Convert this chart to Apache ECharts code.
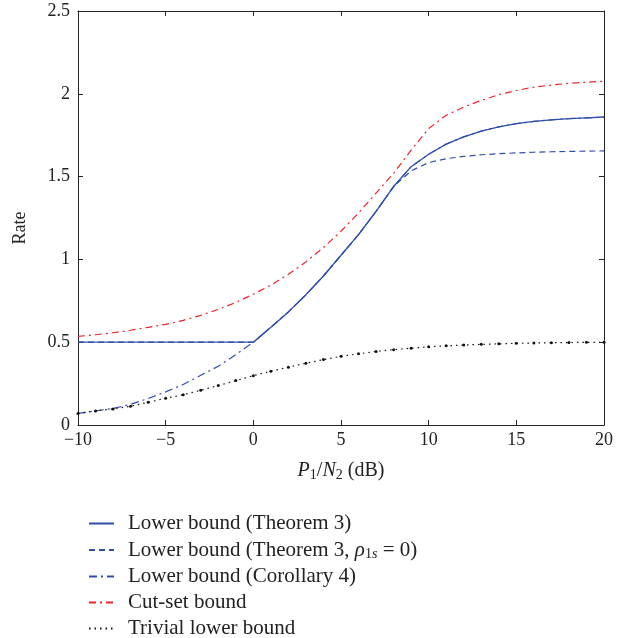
<!DOCTYPE html>
<html><head><meta charset="utf-8">
<script src="https://cdn.jsdelivr.net/npm/echarts@6/dist/echarts.min.js"></script>
<style>html,body{margin:0;padding:0;background:#fff}#c{width:624px;height:638px}</style>
</head><body><div id="c"></div>
<script>
const snr = [-10,-9,-8,-7,-6,-5,-4,-3,-2,-1,0,1,2,3,4,5,6,7,8,9,10,11,12,13,14,15,16,17,18,19,20];
const theorem3 = [0.5,0.5,0.5,0.5,0.5,0.5,0.5,0.5,0.5,0.5,0.5,0.59,0.683,0.787,0.9,1.025,1.15,1.29,1.44,1.56,1.635,1.696,1.74,1.775,1.8,1.82,1.833,1.843,1.85,1.855,1.86];
const theorem3rho0 = [0.5,0.5,0.5,0.5,0.5,0.5,0.5,0.5,0.5,0.5,0.5,0.59,0.683,0.787,0.9,1.025,1.15,1.29,1.44,1.535,1.585,1.608,1.622,1.632,1.638,1.643,1.647,1.65,1.652,1.654,1.655];
const corollary4 = [0.07,0.085,0.1,0.125,0.16,0.2,0.245,0.3,0.355,0.425,0.5,0.59,0.683,0.787,0.9,1.025,1.15,1.29,1.44,1.56,1.635,1.696,1.74,1.775,1.8,1.82,1.833,1.843,1.85,1.855,1.86];
const cutset = [0.535,0.545,0.557,0.572,0.59,0.608,0.632,0.662,0.698,0.74,0.79,0.845,0.91,0.985,1.072,1.17,1.28,1.4,1.52,1.66,1.79,1.87,1.92,1.96,1.995,2.02,2.04,2.053,2.063,2.07,2.076];
const trivial = [0.07,0.085,0.097,0.113,0.137,0.161,0.183,0.21,0.238,0.268,0.298,0.325,0.349,0.373,0.395,0.415,0.43,0.444,0.455,0.464,0.472,0.478,0.483,0.487,0.49,0.493,0.495,0.497,0.498,0.499,0.5];
const names = ['Lower bound (Theorem 3)','Lower bound (Theorem 3, ρ1s = 0)','Lower bound (Corollary 4)','Cut-set bound','Trivial lower bound'];

const pair = arr => snr.map((x,i)=>[x,arr[i]]);
const serif = '"Liberation Serif","DejaVu Serif",serif';
const blue = '#2f4ea6', red = '#e8252b';
const chart = echarts.init(document.getElementById('c'));
const axisCommon = {
  axisLine:{show:true,onZero:false,lineStyle:{color:'#222',width:1}},
  axisTick:{show:true,inside:true,length:5,lineStyle:{color:'#222'}},
  splitLine:{show:false}
};
chart.setOption({
  animation:false,
  grid:{left:78,top:11,width:526,height:414,containLabel:false},
  legend:{
    orient:'vertical',left:88,top:513,height:200,padding:0,itemWidth:25,itemHeight:20,itemGap:5,
    itemStyle:{opacity:0},
    data:names,
    textStyle:{fontFamily:serif,fontSize:21,lineHeight:20,color:'#222',padding:[0,0,0,9],
      rich:{t:{fontFamily:serif,fontSize:21,lineHeight:20,color:'#222'},
            i:{fontFamily:serif,fontSize:21,lineHeight:20,fontStyle:'italic',color:'#222'},
            s:{fontFamily:serif,fontSize:14,lineHeight:20,color:'#222',padding:[8,0,0,0]},
            si:{fontFamily:serif,fontSize:14,lineHeight:20,fontStyle:'italic',color:'#222',padding:[8,0,0,0]}}},
    formatter:function(n){
      if(n===names[1]) return '{t|Lower bound (Theorem 3, }{i|ρ}{s|1}{si|s}{t| = 0)}';
      return '{t|'+n+'}';
    }
  },
  xAxis:[
    Object.assign({type:'value',min:-10,max:20,interval:5,position:'bottom',
      name:'{i|P}{s|1}{t|/}{i|N}{s|2}{t| (dB)}',nameLocation:'middle',nameGap:35,
      nameTextStyle:{rich:{t:{fontFamily:serif,fontSize:20,color:'#222'},i:{fontFamily:serif,fontSize:20,fontStyle:'italic',color:'#222'},s:{fontFamily:serif,fontSize:14,color:'#222',padding:[8,0,0,0]}}},
      axisLabel:{fontFamily:serif,fontSize:18,color:'#222',margin:6,formatter:v=>String(v).replace('-','\u2212')}},axisCommon),
    Object.assign({type:'value',min:-10,max:20,interval:5,position:'top',axisLabel:{show:false}},axisCommon)
  ],
  yAxis:[
    Object.assign({type:'value',min:0,max:2.5,interval:0.5,position:'left',
      name:'Rate',nameLocation:'middle',nameGap:49,nameRotate:90,
      nameTextStyle:{fontFamily:serif,fontSize:18,color:'#222',padding:[0,0,0,-20]},
      axisLabel:{fontFamily:serif,fontSize:18,color:'#222',margin:8}},axisCommon),
    Object.assign({type:'value',min:0,max:2.5,interval:0.5,position:'right',axisLabel:{show:false}},axisCommon)
  ],
  series:[
    {name:names[2],type:'line',data:pair(corollary4),showSymbol:false,symbol:'none',lineStyle:{color:blue,width:1.2,type:[8,4,2,4]},itemStyle:{color:blue},z:2},
    {name:names[1],type:'line',data:pair(theorem3rho0),showSymbol:false,symbol:'none',lineStyle:{color:blue,width:1.2,type:[6,4]},itemStyle:{color:blue},z:3},
    {name:names[0],type:'line',data:pair(theorem3),showSymbol:false,symbol:'none',lineStyle:{color:blue,width:1.3,type:'solid'},itemStyle:{color:blue},z:4},
    {name:names[3],type:'line',data:pair(cutset),showSymbol:false,symbol:'none',smooth:false,lineStyle:{color:red,width:1.2,type:[7,4,2,4]},itemStyle:{color:red},z:3},
    {name:names[4],type:'line',data:pair(trivial),symbol:'circle',symbolSize:3,showSymbol:true,lineStyle:{color:'#111',width:1.2,type:[1.5,4]},itemStyle:{color:'#111'},z:3}
  ]
});
</script></body></html>
